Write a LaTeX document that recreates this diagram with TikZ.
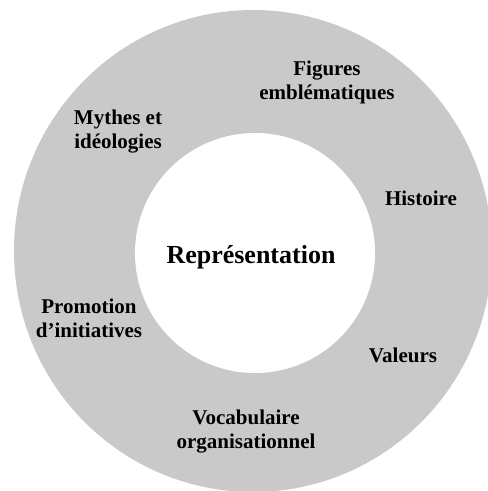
\documentclass[tikz,border=0pt]{standalone}
\usepackage{fontspec}
\setmainfont{Liberation Serif}
\usepackage{tikz}
\usepackage{xcolor}
\definecolor{ringgray}{RGB}{201,201,201}

\begin{document}
\begin{tikzpicture}[x=1pt,y=-1pt,
		                    ring node/.style={align=center,font=\bfseries\fontsize{21}{24}\selectfont},
		                    core node/.style={font=\bfseries\fontsize{26}{30}\selectfont}]
			\useasboundingbox (0,0) rectangle (488,491);
			\clip (0,0) rectangle (488,491);
			% Ring
			  \fill[ringgray] (253,251) ellipse [x radius=239, y radius=241];
			  \fill[white] (255,253) circle [radius=120];
			
			% Nodes
			  \node[core node] (R) at (251,257) {Représentation};
			  \node[ring node] (F) at (327,82) {Figures\\emblématiques};
			  \node[ring node] (M) at (118,132) {Mythes et\\idéologies};
			  \node[ring node] (H) at (421,198) {Histoire};
			  \node[ring node] (P) at (89,318) {Promotion\\d’initiatives};
			  \node[ring node] (V) at (403,355) {Valeurs};
			  \node[ring node] (O) at (246,432) {Vocabulaire\\organisationnel};
			\end{tikzpicture}
\end{document}
